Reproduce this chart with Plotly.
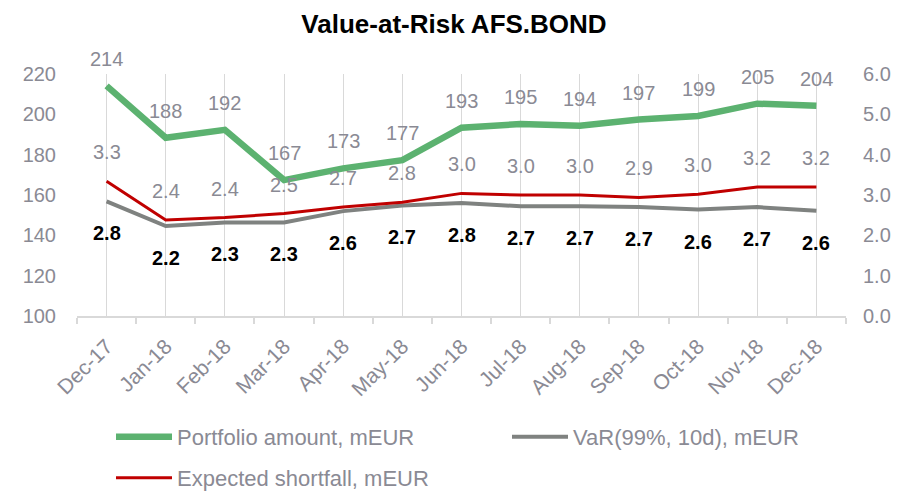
import plotly.graph_objects as go

months = ["Dec-17", "Jan-18", "Feb-18", "Mar-18", "Apr-18", "May-18", "Jun-18",
          "Jul-18", "Aug-18", "Sep-18", "Oct-18", "Nov-18", "Dec-18"]
portfolio = [214.1, 188.4, 192.3, 167.4, 173.2, 177.3, 193.4, 195.2, 194.3, 197.4, 199.2, 205.3, 204.2]
var99 = [2.84, 2.23, 2.32, 2.32, 2.60, 2.74, 2.80, 2.72, 2.72, 2.70, 2.64, 2.70, 2.61]
exp_shortfall = [3.34, 2.38, 2.44, 2.54, 2.70, 2.82, 3.04, 3.00, 3.00, 2.94, 3.02, 3.20, 3.20]

left_ticks = [100, 120, 140, 160, 180, 200, 220]
right_ticks = [0, 1, 2, 3, 4, 5, 6]

GREEN = "#5cb270"
GRAY = "#7f8280"
RED = "#c00000"
TXT = "#8a8a94"
GRID = "#d9d9d9"
FONT = "Liberation Sans, Arial, sans-serif"

xs = list(range(len(months)))

fig = go.Figure()
fig.add_trace(go.Scatter(x=xs, y=portfolio, mode="lines", name="Portfolio amount, mEUR",
                         line=dict(color=GREEN, width=6.5), legend="legend", cliponaxis=False))
fig.add_trace(go.Scatter(x=xs, y=var99, mode="lines", name="VaR(99%, 10d), mEUR",
                         line=dict(color=GRAY, width=4), yaxis="y2", legend="legend2", cliponaxis=False))
fig.add_trace(go.Scatter(x=xs, y=exp_shortfall, mode="lines", name="Expected shortfall, mEUR",
                         line=dict(color=RED, width=3), yaxis="y2", legend="legend3", cliponaxis=False))

annotations = []
for x, v in zip(xs, portfolio):
    annotations.append(dict(x=x, y=v, xref="x", yref="y", text=f"{v:.0f}", showarrow=False,
                            yshift=27, font=dict(family=FONT, size=20, color=TXT)))
for x, v in zip(xs, exp_shortfall):
    annotations.append(dict(x=x, y=v, xref="x", yref="y2", text=f"{v:.1f}", showarrow=False,
                            yshift=29, font=dict(family=FONT, size=20, color=TXT)))
for x, v in zip(xs, var99):
    annotations.append(dict(x=x, y=v, xref="x", yref="y2", text=f"<b>{v:.1f}</b>", showarrow=False,
                            yshift=-32, font=dict(family=FONT, size=20, color="#000000")))

legend_common = dict(orientation="h", xref="container", yref="container", xanchor="left",
                     yanchor="middle", itemwidth=56, bgcolor="rgba(0,0,0,0)",
                     font=dict(family=FONT, size=22, color=TXT))

fig.update_layout(
    width=903, height=491,
    margin=dict(l=77, r=51, t=74, b=175),
    paper_bgcolor="white", plot_bgcolor="white",
    title=dict(text="<b>Value-at-Risk AFS.BOND</b>", x=454/903, xanchor="center",
               y=1 - 24/491, yanchor="middle",
               font=dict(family=FONT, size=26, color="#000000")),
    xaxis=dict(range=[-0.5, len(months) - 0.5], tickmode="array", tickvals=xs, ticktext=months,
               tickangle=-45, showgrid=True, gridcolor=GRID, gridwidth=1, ticks="",
               showline=True, linecolor=GRID, linewidth=1.5, zeroline=False,
               ticklabelstandoff=8,
               tickfont=dict(family=FONT, size=21, color=TXT),
               minor=dict(tick0=-0.5, dtick=1, ticks="outside", ticklen=6, tickcolor=GRID,
                          tickwidth=1.5, showgrid=False)),
    yaxis=dict(range=[100, 220], tickmode="array", tickvals=left_ticks, showgrid=False,
               zeroline=False, showline=False, ticks="", ticklabelstandoff=20,
               tickfont=dict(family=FONT, size=20, color=TXT)),
    yaxis2=dict(range=[0, 6], tickmode="array", tickvals=right_ticks, tickformat=".1f",
                overlaying="y", side="right", showgrid=False, zeroline=False, showline=False,
                ticks="", ticklabelstandoff=16,
                tickfont=dict(family=FONT, size=20, color=TXT)),
    legend=dict(legend_common, x=111/903, y=1 - 437/491),
    legend2=dict(legend_common, x=507/903, y=1 - 437/491),
    legend3=dict(legend_common, x=111/903, y=1 - 478/491),
    annotations=annotations,
    showlegend=True,
)

fig.write_html("out.html", config={"displayModeBar": False},
               post_script="document.body.style.margin='0';document.body.style.overflow='hidden';")
